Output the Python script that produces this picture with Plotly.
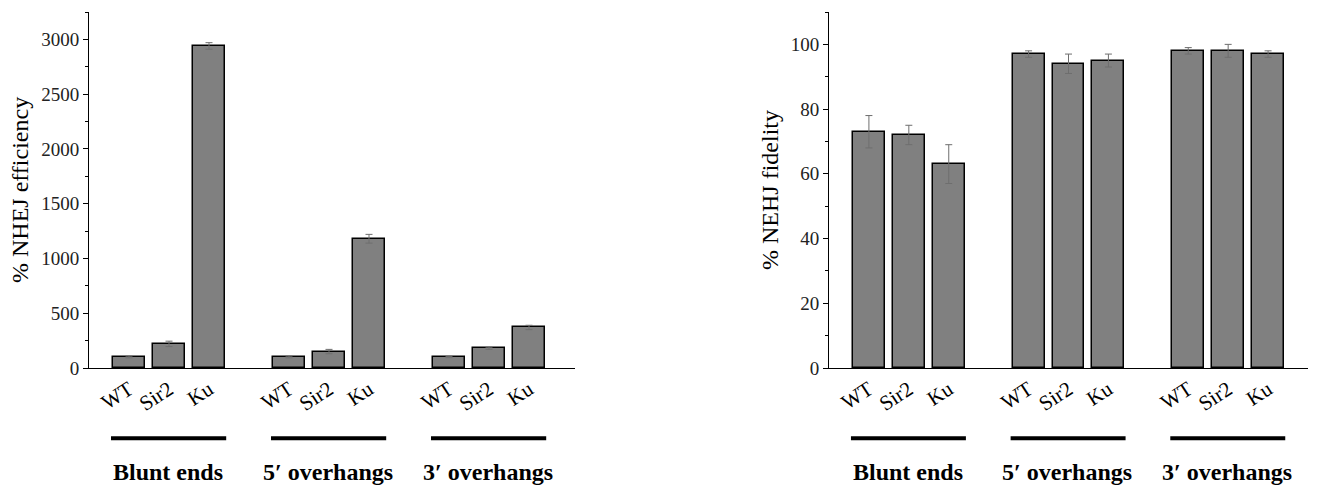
import plotly.graph_objects as go

strains = ["WT", "Sir2", "Ku"]
groups = ["Blunt ends", "5′ overhangs", "3′ overhangs"]
positions = [0, 1, 2, 4, 5, 6, 8, 9, 10]
tick_labels = strains * 3

efficiency = [100, 220, 2940, 100, 150, 1180, 100, 180, 370]
efficiency_err = [8, 25, 30, 8, 20, 40, 6, 10, 20]

fidelity = [73, 72, 63, 97, 94, 95, 98, 98, 97]
fidelity_err = [5, 3, 6, 1, 3, 2, 1, 2, 1]

FONT = "Liberation Serif"
W, H = 1320, 480   # page body has an 8px margin
fig = go.Figure()

def add_bars(vals, errs, xa, ya):
    fig.add_trace(go.Bar(
        x=positions, y=vals, width=0.8,
        marker=dict(color="#808080", line=dict(color="black", width=1.5)),
        error_y=dict(type="data", array=errs, color="#6e6e6e", thickness=1, width=3.5),
        xaxis=xa, yaxis=ya, showlegend=False,
    ))

add_bars(efficiency, efficiency_err, "x", "y")
add_bars(fidelity, fidelity_err, "x2", "y2")

xcommon = dict(
    tickvals=positions, ticktext=tick_labels, tickangle=-33,
    showline=True, linecolor="black", linewidth=1, ticks="",
    showgrid=False, zeroline=False,
    tickfont=dict(family=FONT, size=21, color="black"),
)
ycommon = dict(
    showline=True, linecolor="black", linewidth=1, ticks="outside", ticklen=5,
    tickcolor="black", showgrid=False, zeroline=False,
    tickfont=dict(family=FONT, size=19, color="#222"),
)

fig.update_layout(
    width=W, height=H,
    margin=dict(l=0, r=0, t=4, b=120),
    plot_bgcolor="white", paper_bgcolor="white",
    bargap=0,
    xaxis=dict(domain=[81/W, 567/W], range=[-1, 11.15], anchor="y", **xcommon),
    yaxis=dict(range=[0, 3250], dtick=500, anchor="x",
               minor=dict(dtick=250, ticks="outside", ticklen=3, tickcolor="black"), **ycommon),
    xaxis2=dict(domain=[821/W, 1300/W], range=[-1, 11], anchor="y2", **xcommon),
    yaxis2=dict(range=[0, 110], dtick=20, anchor="x2",
                minor=dict(dtick=10, ticks="outside", ticklen=3, tickcolor="black"), **ycommon),
)

# axis titles
fig.add_annotation(text="% NHEJ efficiency", xref="paper", yref="paper",
                   x=12/W, y=0.5, textangle=-90, showarrow=False,
                   xanchor="center", yanchor="middle",
                   font=dict(family=FONT, size=24, color="black"))
fig.add_annotation(text="% NEHJ fidelity", xref="paper", yref="paper",
                   x=762/W, y=0.5, textangle=-90, showarrow=False,
                   xanchor="center", yanchor="middle",
                   font=dict(family=FONT, size=24, color="black"))

# group bars and labels
for xr in ["x", "x2"]:
    for gi, g in enumerate(groups):
        start = positions[gi * 3]
        fig.add_shape(type="line", xref=xr, yref="paper",
                      x0=start - 0.45, x1=start + 2.43, y0=-0.197, y1=-0.197,
                      line=dict(color="black", width=4))
        fig.add_annotation(text="<b>" + g + "</b>", xref=xr, yref="paper",
                           x=start + 0.97, y=-0.292, showarrow=False, yanchor="middle",
                           font=dict(family=FONT, size=24, color="black"))

fig.write_html("out.html")
